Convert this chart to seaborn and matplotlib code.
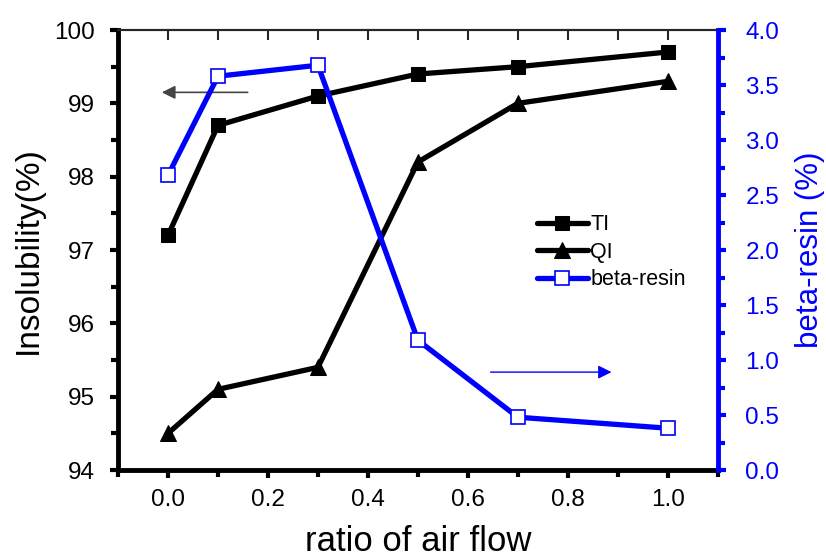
import matplotlib
matplotlib.use("Agg")
import matplotlib.pyplot as plt
import seaborn as sns
import pandas as pd
from matplotlib.ticker import MultipleLocator

sns.set_theme(style="white")
plt.rcParams['font.family'] = ['Liberation Sans', 'DejaVu Sans']
plt.rcParams['text.color'] = 'black'
plt.rcParams['axes.labelcolor'] = 'black'

ratio = [0.0, 0.1, 0.3, 0.5, 0.7, 1.0]
ti = [97.2, 98.7, 99.1, 99.4, 99.5, 99.7]
qi = [94.5, 95.1, 95.4, 98.2, 99.0, 99.3]
beta = [2.68, 3.58, 3.68, 1.18, 0.48, 0.38]

df = pd.DataFrame({"ratio": ratio, "TI": ti, "QI": qi, "beta": beta})

fig = plt.figure(figsize=(8.26, 5.58), dpi=100)
ax = fig.add_axes([0.1429, 0.1577, 0.726, 0.7885])
ax2 = ax.twinx()

blue = "#0000ff"
sns.lineplot(data=df, x="ratio", y="TI", ax=ax, color="black", lw=3.8,
             marker="s", markersize=10, markeredgecolor="black", label="TI", legend=False)
sns.lineplot(data=df, x="ratio", y="QI", ax=ax, color="black", lw=3.8,
             marker="^", markersize=11, markeredgecolor="black", label="QI", legend=False)
sns.lineplot(data=df, x="ratio", y="beta", ax=ax2, color=blue, lw=3.8,
             marker="s", markersize=10, markerfacecolor="white", markeredgecolor=blue,
             markeredgewidth=1.2, label="beta-resin", legend=False)

ax.set_xlim(-0.1, 1.1)
ax.set_ylim(94, 100)
ax2.set_ylim(0, 4.0)

ax.xaxis.set_major_locator(MultipleLocator(0.2))
ax.xaxis.set_minor_locator(MultipleLocator(0.1))
ax.yaxis.set_major_locator(MultipleLocator(1))
ax.yaxis.set_minor_locator(MultipleLocator(0.5))
ax2.yaxis.set_major_locator(MultipleLocator(0.5))
ax2.yaxis.set_minor_locator(MultipleLocator(0.25))

ax.tick_params(axis="x", which="both", direction="out", bottom=True, top=False,
               width=3, labelsize=17.5, colors="black")
ax.tick_params(axis="x", which="major", length=6, pad=8)
ax.tick_params(axis="x", which="minor", length=5)
ax.tick_params(axis="y", which="both", direction="out", left=True, width=3,
               labelsize=17.5, colors="black")
ax.tick_params(axis="y", which="major", length=6, pad=11)
ax.tick_params(axis="y", which="minor", length=5)
ax2.tick_params(axis="y", which="both", direction="out", right=True, width=3,
                labelsize=17.5, colors=blue)
ax2.tick_params(axis="y", which="major", length=6, pad=14)
ax2.tick_params(axis="y", which="minor", length=5)

# top inward ticks
sec = ax.secondary_xaxis("top")
sec.xaxis.set_major_locator(MultipleLocator(0.1))
sec.tick_params(axis="x", direction="in", length=7, width=1.5, labeltop=False)
sec.spines["top"].set_linewidth(1.5)

for s in ["left", "bottom"]:
    ax.spines[s].set_linewidth(3.5)
    ax.spines[s].set_color("black")
ax.spines["top"].set_linewidth(1.5)
ax.spines["right"].set_visible(False)
for s in ["left", "bottom", "top"]:
    ax2.spines[s].set_visible(False)
ax2.spines["right"].set_linewidth(3.5)
ax2.spines["right"].set_color(blue)

ax.set_xlabel("ratio of air flow", fontsize=25, labelpad=10)
ax.set_ylabel("Insolubility(%)", fontsize=24, labelpad=7)
ax2.set_ylabel("beta-resin (%)", fontsize=22.5, color=blue, labelpad=11)

ax.annotate("", xy=(-0.018, 99.15), xytext=(0.165, 99.15),
            arrowprops=dict(arrowstyle="-|>", color="#444444", lw=1.2, mutation_scale=20))
ax2.annotate("", xy=(0.893, 0.89), xytext=(0.64, 0.89),
             arrowprops=dict(arrowstyle="-|>", color=blue, lw=1.0, mutation_scale=20))

h1, lab1 = ax.get_legend_handles_labels()
h2, lab2 = ax2.get_legend_handles_labels()
leg = ax2.legend(h1 + h2, lab1 + lab2, loc="upper left", bbox_to_anchor=(0.698, 0.581),
                 frameon=False, fontsize=15.5, handlelength=2.4, handletextpad=0.1,
                 labelspacing=0.3, borderaxespad=0, borderpad=0)
for t in leg.get_texts():
    t.set_color("black")

fig.savefig("out.png", dpi=100)
